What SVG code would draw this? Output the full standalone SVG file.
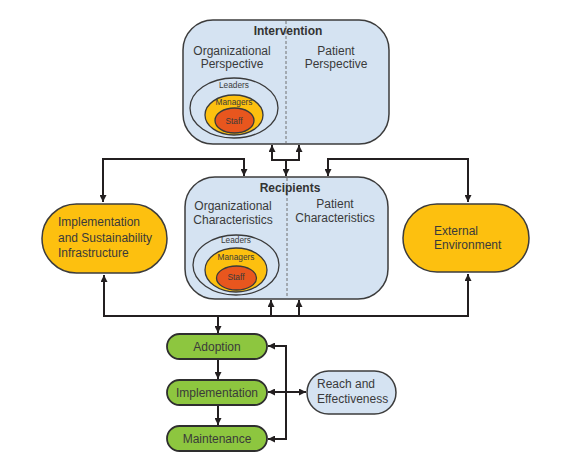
<svg xmlns="http://www.w3.org/2000/svg" width="572" height="474" viewBox="0 0 572 474">
<style>
.t{font-family:"Liberation Sans",Arial,sans-serif;font-size:12px;fill:#3a3a3a}
.b{font-weight:bold;fill:#333}
.s{font-size:8.3px;text-anchor:middle}
.m{text-anchor:middle}
.blue{fill:#d5e3f2;stroke:#3c3c3c;stroke-width:1.5}
.yel{fill:#fdc00f;stroke:#3c3c3c;stroke-width:1.5}
.grn{fill:#8dc63f;stroke:#2e2e2e;stroke-width:1.8}
.c{fill:none;stroke:#231f20;stroke-width:2;marker-start:url(#a);marker-end:url(#a)}
.e{fill:none;stroke:#231f20;stroke-width:2;marker-end:url(#a)}
.dash{stroke:#707070;stroke-width:1;stroke-dasharray:3 2}
</style>
<defs>
<marker id="a" viewBox="0 0 8 8" refX="8" refY="4" markerWidth="7" markerHeight="7" markerUnits="userSpaceOnUse" orient="auto-start-reverse">
<path d="M0,0 L8,4 L0,8 z" fill="#231f20"/>
</marker>
</defs>
<rect width="572" height="474" fill="#ffffff"/>

<g id="connectors">
<path class="c" d="M244,176 L244,159 L103,159 L103,202"/>
<path class="c" d="M328,176 L328,159 L468,159 L468,202"/>
<path class="c" d="M272,145 L272,160 L299,160 L299,145"/>
<path class="e" d="M286,160 L286,176"/>
<path class="c" d="M104,275 L104,316 L468,316 L468,274"/>
<path class="e" d="M271,316 L271,300"/>
<path class="e" d="M299,316 L299,300"/>
<path class="e" d="M218,316 L218,333"/>
<path class="e" d="M218,359 L218,379"/>
<path class="e" d="M218,405 L218,425"/>
<path class="c" d="M268,346 L286,346 L286,439 L268,439"/>
<path class="c" d="M268,392 L306,392"/>
</g>

<g id="intervention">
<rect class="blue" x="183" y="20" width="206" height="124" rx="30"/>
<line class="dash" x1="286" y1="21" x2="286" y2="143"/>
<text class="t b m" x="288" y="35">Intervention</text>
<text class="t m" x="232" y="55">Organizational</text>
<text class="t m" x="232" y="68">Perspective</text>
<text class="t m" x="336" y="55">Patient</text>
<text class="t m" x="336" y="68">Perspective</text>
<ellipse cx="234" cy="108" rx="44" ry="30" fill="none" stroke="#3a3a3a" stroke-width="1.3"/>
<ellipse cx="234" cy="115" rx="29" ry="20" fill="#fdc00f" stroke="#3a3a3a" stroke-width="1.3"/>
<ellipse cx="234.5" cy="120.5" rx="19.5" ry="12.5" fill="#e8561e" stroke="#3a3a3a" stroke-width="1.3"/>
<text class="t s" x="234" y="88">Leaders</text>
<text class="t s" x="234" y="105">Managers</text>
<text class="t s" x="234" y="124">Staff</text>
</g>

<g id="recipients">
<rect class="blue" x="185" y="177" width="203" height="122" rx="30"/>
<line class="dash" x1="287" y1="178" x2="287" y2="298"/>
<text class="t b m" x="290" y="192">Recipients</text>
<text class="t m" x="233" y="210">Organizational</text>
<text class="t m" x="233" y="224">Characteristics</text>
<text class="t m" x="335" y="208">Patient</text>
<text class="t m" x="335" y="222">Characteristics</text>
<ellipse cx="236" cy="265" rx="43" ry="30" fill="none" stroke="#3a3a3a" stroke-width="1.3"/>
<ellipse cx="236" cy="270" rx="31" ry="22" fill="#fdc00f" stroke="#3a3a3a" stroke-width="1.3"/>
<ellipse cx="236.5" cy="278" rx="20" ry="12" fill="#e8561e" stroke="#3a3a3a" stroke-width="1.3"/>
<text class="t s" x="236" y="243">Leaders</text>
<text class="t s" x="236" y="260">Managers</text>
<text class="t s" x="236" y="280">Staff</text>
</g>

<g id="infrastructure">
<rect class="yel" x="42" y="204" width="125" height="69" rx="34.5"/>
<text class="t" x="58" y="226" fill="#222">Implementation</text>
<text class="t" x="58" y="242">and Sustainability</text>
<text class="t" x="58" y="257">Infrastructure</text>
</g>

<g id="external">
<rect class="yel" x="403" y="204" width="126" height="68" rx="34"/>
<text class="t" x="434" y="235">External</text>
<text class="t" x="434" y="249">Environment</text>
</g>

<g id="adoption">
<rect class="grn" x="167" y="334" width="100" height="25" rx="12.5"/>
<text class="t m" x="217" y="351">Adoption</text>
</g>
<g id="implementation">
<rect class="grn" x="167" y="380" width="100" height="25" rx="12.5"/>
<text class="t m" x="217" y="397">Implementation</text>
</g>
<g id="maintenance">
<rect class="grn" x="167" y="426" width="100" height="25" rx="12.5"/>
<text class="t m" x="217" y="443">Maintenance</text>
</g>

<g id="reach">
<rect class="blue" x="307" y="371" width="89" height="43" rx="21.5" stroke-width="1.8"/>
<text class="t" x="317" y="388">Reach and</text>
<text class="t" x="317" y="403">Effectiveness</text>
</g>
</svg>
